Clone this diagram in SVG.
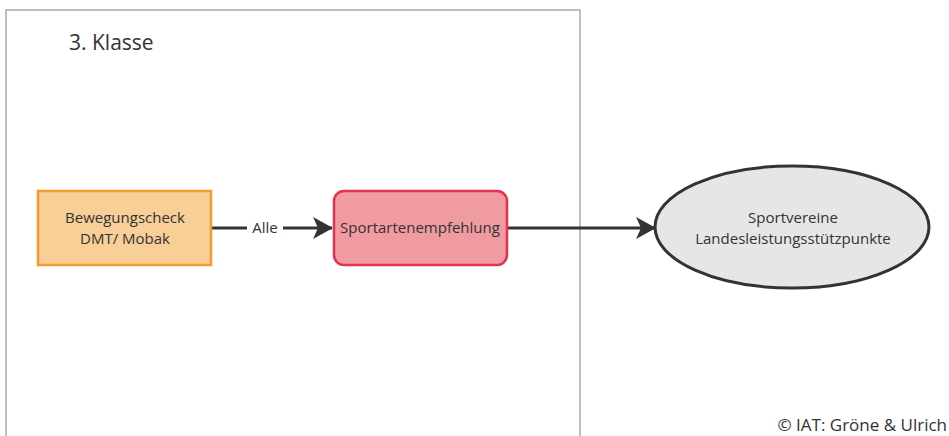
<svg xmlns="http://www.w3.org/2000/svg" width="949" height="436" viewBox="0 0 949 436">
<defs>
<style>
text{font-family:"Open Sans","Liberation Sans",sans-serif;fill:#333}
.lbl{font-size:15px;text-anchor:middle}
.edge{stroke:#333;stroke-width:3;fill:none}
</style>
<marker id="ah" viewBox="0 0 20 22" refX="19" refY="11" markerWidth="20" markerHeight="22" markerUnits="userSpaceOnUse" orient="auto">
<path d="M0,0 L20,11 L0,22 L5,11 Z" fill="#333"/>
</marker>
</defs>
<rect width="949" height="436" fill="#fff"/>
<g id="frame">
<path d="M6,436 V10 H580 V436" fill="none" stroke="#ababab" stroke-width="1.5"/>
<text x="69" y="50" style="font-size:21px">3. Klasse</text>
</g>
<g id="connectors">
<path class="edge" d="M212,228 H247"/>
<path class="edge" d="M283,228 H332" marker-end="url(#ah)"/>
<text class="lbl" x="265" y="233">Alle</text>
<path class="edge" d="M507,228 H655" marker-end="url(#ah)"/>
</g>
<g id="bewegungscheck">
<rect x="38" y="191" width="173" height="74" fill="#f7cf97" stroke="#f39b2c" stroke-width="2.5"/>
<text class="lbl" x="125" y="223">Bewegungscheck</text>
<text class="lbl" x="125" y="244">DMT/ Mobak</text>
</g>
<g id="sportartenempfehlung">
<rect x="334" y="191" width="173" height="74" rx="10" fill="#f09aa1" stroke="#e3344b" stroke-width="2.5"/>
<text class="lbl" x="420" y="233">Sportartenempfehlung</text>
</g>
<g id="sportvereine">
<ellipse cx="792" cy="227" rx="137" ry="61" fill="#e6e6e6" stroke="#333" stroke-width="3"/>
<text class="lbl" x="793" y="223">Sportvereine</text>
<text class="lbl" x="793" y="244">Landesleistungsstützpunkte</text>
</g>
<text x="947" y="431" style="font-size:17px;text-anchor:end">© IAT: Gröne &amp; Ulrich</text>
</svg>
